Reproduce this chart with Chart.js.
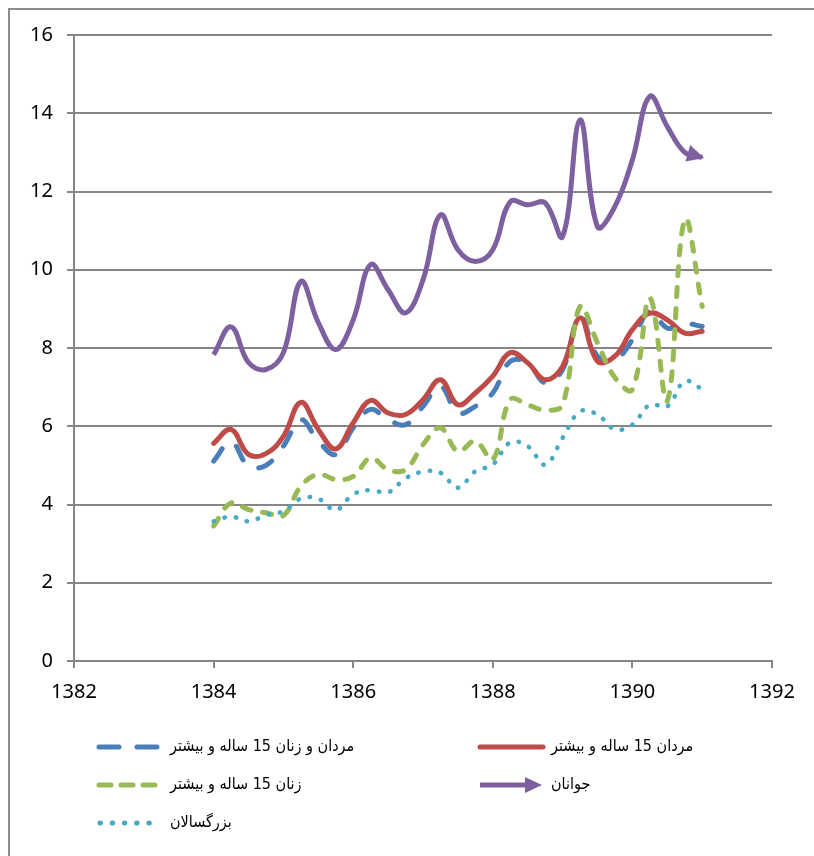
<!DOCTYPE html>
<html>
<head>
<meta charset="utf-8">
<script src="https://cdn.jsdelivr.net/npm/chart.js@4.4.1/dist/chart.umd.min.js"></script>
<style>
  html, body { margin: 0; padding: 0; background: #fff; overflow: hidden; }
  #frame { position: absolute; left: 8px; top: 8px; width: 830px; height: 870px; border: 2px solid #8c8c8c; }
  #wrap { position: absolute; left: 0; top: 0; width: 814px; height: 856px; }
</style>
</head>
<body>
<div id="frame"></div>
<div id="wrap"><canvas id="chart"></canvas></div>
<script>
// quarterly points, 1384 .. 1391
const quarters = [1384, 1384.25, 1384.5, 1384.75, 1385, 1385.25, 1385.5, 1385.75,
  1386, 1386.25, 1386.5, 1386.75, 1387, 1387.25, 1387.5, 1387.75,
  1388, 1388.25, 1388.5, 1388.75, 1389, 1389.25, 1389.5, 1389.75,
  1390, 1390.25, 1390.5, 1390.75, 1391];

const menWomen = [5.11, 5.6, 4.98, 5.0, 5.49, 6.17, 5.62, 5.28, 5.96, 6.43, 6.17, 6.04, 6.51, 7.02, 6.34, 6.51,
  6.85, 7.66, 7.62, 7.11, 7.45, 8.81, 7.79, 7.7, 8.21, 8.94, 8.51, 8.62, 8.55];
const men = [5.56, 5.92, 5.28, 5.3, 5.74, 6.61, 5.92, 5.42, 6.09, 6.66, 6.34, 6.3, 6.68, 7.19, 6.55, 6.85,
  7.28, 7.88, 7.62, 7.19, 7.53, 8.77, 7.66, 7.79, 8.47, 8.89, 8.72, 8.38, 8.43];
const women = [3.45, 4.04, 3.87, 3.79, 3.72, 4.47, 4.77, 4.64, 4.72, 5.19, 4.89, 4.89, 5.53, 5.96, 5.36, 5.62,
  5.15, 6.68, 6.55, 6.41, 6.55, 9.06, 8.13, 7.24, 6.94, 9.28, 6.65, 11.28, 9.06];
const youth = [7.83, 8.54, 7.63, 7.45, 7.88, 9.7, 8.65, 7.96, 8.72, 10.13, 9.49, 8.9, 9.74, 11.4, 10.51, 10.21,
  10.51, 11.74, 11.66, 11.71, 10.85, 13.83, 11.1, 11.62, 12.81, 14.43, 13.66, 13.0, 12.87];
const adults = [3.57, 3.69, 3.57, 3.73, 3.83, 4.15, 4.15, 3.86, 4.26, 4.37, 4.31, 4.67, 4.84, 4.81, 4.43, 4.85,
  5.02, 5.59, 5.49, 5.02, 5.7, 6.38, 6.3, 5.92, 6.04, 6.55, 6.51, 7.15, 6.95];

const labels = ["مردان و زنان 15 ساله و بیشتر", "مردان 15 ساله و بیشتر", "زنان 15 ساله و بیشتر", "جوانان", "بزرگسالان"];
const colors = ["#4a7ebb", "#be4b48", "#98b954", "#7d60a0", "#46aac5"];
const dashes = [[15, 19], [], [9, 12], [], [0.5, 11]];

function pts(arr) {
  return quarters.map((q, i) => ({ x: q, y: arr[i] }));
}

const series = [menWomen, men, women, youth, adults];

const datasets = series.map((s, i) => ({
  label: labels[i],
  data: pts(s),
  borderColor: colors[i],
  backgroundColor: colors[i],
  borderWidth: i === 4 ? 4.5 : 5,
  borderDash: dashes[i],
  borderCapStyle: i === 3 ? "butt" : "round",
  borderJoinStyle: "round",
  pointRadius: 0,
  tension: 0.4,
  fill: false,
  order: 5 - i,
}));

// arrow head on the youth series + legend in two columns
const extras = {
  id: "extras",
  afterDatasetsDraw(chart) {
    const ctx = chart.ctx;
    const meta = chart.getDatasetMeta(3);
    const els = meta.data;
    const last = els[els.length - 1];
    const ang = Math.atan2(last.y - last.cp1y, last.x - last.cp1x);
    const len = 17, half = 8.5;
    ctx.save();
    ctx.translate(last.x, last.y);
    ctx.rotate(ang);
    ctx.fillStyle = colors[3];
    ctx.beginPath();
    ctx.moveTo(2, 0);
    ctx.lineTo(2 - len, -half);
    ctx.lineTo(2 - len, half);
    ctx.closePath();
    ctx.fill();
    ctx.restore();
  },
  afterDraw(chart) {
    const ctx = chart.ctx;
    const area = chart.chartArea;
    const rows = [area.bottom + 86, area.bottom + 124, area.bottom + 162];
    const cols = [97, 478];
    const place = [[0, 0], [1, 0], [0, 1], [1, 1], [0, 2]];
    const sampleW = [63, 67, 63, 64, 60];
    ctx.save();
    place.forEach((p, i) => {
      const x0 = cols[p[0]];
      const y = rows[p[1]];
      ctx.strokeStyle = colors[i];
      ctx.lineWidth = 5;
      ctx.lineCap = i === 3 ? "butt" : "round";
      ctx.setLineDash(i === 0 ? [20, 18] : i === 2 ? [12, 10] : i === 4 ? [0.5, 11.7] : []);
      ctx.beginPath();
      const x1 = i === 4 ? x0 + 3 : x0 + 2;
      ctx.moveTo(x1, y);
      ctx.lineTo(x0 + sampleW[i] - (i === 3 ? 14 : 2), y);
      ctx.stroke();
      if (i === 3) {
        ctx.fillStyle = colors[3];
        ctx.beginPath();
        ctx.moveTo(x0 + sampleW[i], y);
        ctx.lineTo(x0 + sampleW[i] - 17, y - 8);
        ctx.lineTo(x0 + sampleW[i] - 17, y + 8);
        ctx.closePath();
        ctx.fill();
      }
      ctx.setLineDash([]);
      ctx.fillStyle = "#000";
      ctx.font = "16px 'DejaVu Sans Condensed', 'DejaVu Sans'";
      ctx.direction = "rtl";
      ctx.textAlign = "left";
      ctx.textBaseline = "middle";
      ctx.fillText(labels[i], x0 + 73, y);
    });
    ctx.restore();
  },
};

const ctx = document.getElementById("chart").getContext("2d");
new Chart(ctx, {
  type: "line",
  data: { datasets: datasets },
  options: {
    responsive: true,
    maintainAspectRatio: false,
    animation: false,
    layout: { padding: { left: 0, top: 35, right: 42, bottom: 0 } },
    plugins: { legend: { display: false }, tooltip: { enabled: false } },
    scales: {
      x: {
        type: "linear",
        min: 1382,
        max: 1392,
        ticks: { stepSize: 2, color: "#000", font: { family: "Noto Sans", size: 20 }, padding: 12,
          callback: (v) => String(v) },
        grid: { drawOnChartArea: false, drawTicks: true, tickLength: 7, color: "#868686", lineWidth: 2 },
        border: { display: true, color: "#868686", width: 2 },
        afterFit: (s) => { s.height = 195; },
      },
      y: {
        min: 0,
        max: 16,
        ticks: { stepSize: 2, color: "#000", font: { family: "Noto Sans", size: 20 }, padding: 14 },
        grid: { drawOnChartArea: true, drawTicks: true, tickLength: 7, color: "#868686", lineWidth: 2 },
        border: { display: true, color: "#868686", width: 2 },
        afterFit: (s) => { s.width = 74; },
      },
    },
  },
  plugins: [extras],
});
</script>
</body>
</html>
